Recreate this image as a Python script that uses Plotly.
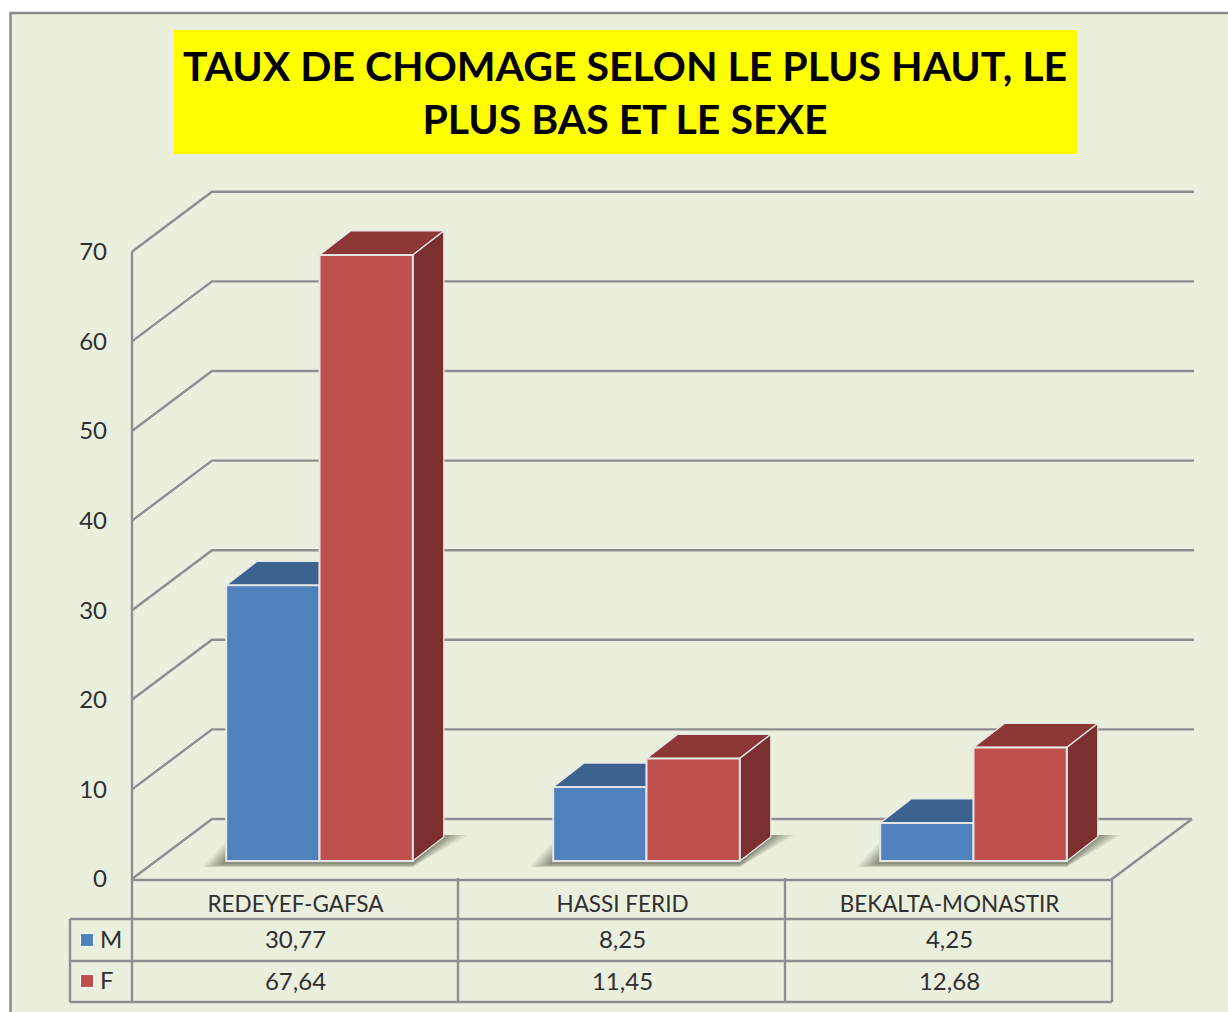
import plotly.graph_objects as go

categories = ["REDEYEF-GAFSA", "HASSI FERID", "BEKALTA-MONASTIR"]
series_m = [30.77, 8.25, 4.25]
series_f = [67.64, 11.45, 12.68]
y_ticks = [0, 10, 20, 30, 40, 50, 60, 70]
title_text = "TAUX DE CHOMAGE SELON LE PLUS HAUT, LE<br>PLUS BAS ET LE SEXE"

W, H = 1228, 1012
PX_X = 327.0      # pixels per category
PX_Y = 8.96       # pixels per value unit
X0_PX, Y0_PX = 132.0, 879.0
FONT = "Lato"
TXT = "#303030"
GRID = "#8F8F8F"
BG = "#EBEFDE"

def dx(px): return px / PX_X
def dy(px): return px / PX_Y
def xp(px): return px / W
def yp(px): return 1 - px / H
def data_y(px): return (Y0_PX - px) / PX_Y

WALL_DX, WALL_DY = dx(80), dy(60)
BAR_W = dx(93.3)
BAR_DX, BAR_DY = dx(31), dy(24)
LIFT = dy(18)
GROUP_SHIFT = dx(24)
RIGHT_END = dx(1194 - X0_PX)

fig = go.Figure()

# walls: gridlines derived from the tick values
gx, gy = [], []
for t in y_ticks:
    end = dx(1192 - X0_PX) if t == 0 else RIGHT_END
    gx += [0, WALL_DX, end, None]
    gy += [t, t + WALL_DY, t + WALL_DY, None]
gx += [0, 0, None, dx(980), dx(1060), None]
gy += [0, y_ticks[-1], None, 0, WALL_DY, None]
fig.add_trace(go.Scatter(x=gx, y=gy, mode="lines", line=dict(color=GRID, width=2.4),
                         hoverinfo="skip", showlegend=False, zorder=0))

centers = [i + 0.5 + GROUP_SHIFT for i in range(len(categories))]

# floor shadows: stacked translucent layers fade out away from the bars
for scale, bottom, alpha in [(1.0, 6, 0.08), (0.86, 6, 0.1), (0.72, 5.5, 0.11), (0.58, 5, 0.12),
                             (0.44, 4.5, 0.13), (0.3, 4, 0.15), (0.16, 3, 0.17)]:
    for c in centers:
        xl, xr = c - BAR_W, c + BAR_W
        sx = [xl - dx(24 * scale), xl, xr + BAR_DX, xr + BAR_DX + dx(24 * scale), xr]
        sy = [LIFT - dy(bottom), LIFT + dy(20 * scale), LIFT + BAR_DY + dy(2),
              LIFT + BAR_DY + dy(2), LIFT - dy(bottom)]
        fig.add_trace(go.Scatter(x=sx, y=sy, mode="lines", fill="toself", line=dict(width=0),
                                 fillcolor=f"rgba(80,85,65,{alpha})", hoverinfo="skip",
                                 showlegend=False, zorder=1))

EDGE = "#E4E6E4"
def box_faces(xl, xr, v, top_col, side_col, with_side):
    top = LIFT + v
    fig.add_trace(go.Scatter(x=[xl, xl + BAR_DX, xr + (BAR_DX if with_side else 0), xr, xl],
                             y=[top, top + BAR_DY, top + BAR_DY, top, top],
                             mode="lines", fill="toself", fillcolor=top_col,
                             line=dict(color=EDGE, width=1.3), hoverinfo="skip",
                             showlegend=False, zorder=2))
    if with_side:
        fig.add_trace(go.Scatter(x=[xr, xr + BAR_DX, xr + BAR_DX, xr, xr],
                                 y=[LIFT, LIFT + BAR_DY, top + BAR_DY, top, LIFT],
                                 mode="lines", fill="toself", fillcolor=side_col,
                                 line=dict(color=EDGE, width=1.3), hoverinfo="skip",
                                 showlegend=False, zorder=2))

for c, m, f in zip(centers, series_m, series_f):
    box_faces(c - BAR_W, c, m, "#3C6290", "#3C6290", False)
    box_faces(c, c + BAR_W, f, "#8D3836", "#7B2F2E", True)

fig.add_trace(go.Bar(name="M", x=[c - BAR_W / 2 for c in centers], y=series_m, base=LIFT, width=BAR_W,
                     marker=dict(color="#4F81BD", line=dict(color=EDGE, width=2)), showlegend=False, zorder=3))
fig.add_trace(go.Bar(name="F", x=[c + BAR_W / 2 for c in centers], y=series_f, base=LIFT, width=BAR_W,
                     marker=dict(color="#C0504D", line=dict(color=EDGE, width=2)), showlegend=False, zorder=3))

# data table
def fmt(v): return f"{v:.2f}".replace(".", ",")
cell_x = [i + 0.5 for i in range(len(categories))]
for vals, row_px in [(series_m, 942), (series_f, 984)]:
    fig.add_trace(go.Scatter(x=cell_x, y=[data_y(row_px)] * len(vals), mode="text",
                             text=[fmt(v) for v in vals], textposition="middle center",
                             textfont=dict(family=FONT, size=24, color=TXT),
                             hoverinfo="skip", showlegend=False, zorder=4))
for name, col, row_px, label_px in [("M", "#4F81BD", 940, 942), ("F", "#C0504D", 981, 983)]:
    fig.add_trace(go.Scatter(x=[dx(87 - X0_PX)], y=[data_y(row_px)], mode="markers",
                             marker=dict(symbol="square", size=13, color=col, line=dict(color="#FFFFFF", width=1)),
                             hoverinfo="skip", showlegend=False, zorder=4))
    fig.add_trace(go.Scatter(x=[dx(100 - X0_PX)], y=[data_y(label_px)], mode="text",
                             text=[name], textposition="middle right",
                             textfont=dict(family=FONT, size=24, color=TXT),
                             hoverinfo="skip", showlegend=False, zorder=4))

shapes = [
    dict(type="rect", xref="paper", yref="paper", x0=xp(10.5), x1=xp(1240), y0=yp(13), y1=yp(1030),
         fillcolor=BG, line=dict(color="#8A8A8A", width=2.5), layer="below"),
    dict(type="rect", xref="paper", yref="paper", x0=xp(174), x1=xp(1077), y0=yp(30), y1=yp(154),
         fillcolor="#FFFF00", line=dict(width=0), layer="below"),
]
def seg(x0, y0, x1, y1):
    shapes.append(dict(type="line", xref="paper", yref="paper", x0=xp(x0), x1=xp(x1), y0=yp(y0), y1=yp(y1),
                       line=dict(color=GRID, width=2.4), layer="below"))
seg(132, 880, 1112, 880)
seg(70, 919, 1112, 919)
seg(70, 961, 1112, 961)
seg(70, 1002, 1112, 1002)
seg(70, 919, 70, 1002)
for x in (132, 458, 785, 1112):
    seg(x, 878, x, 1002)

fig.update_layout(
    width=W, height=H, margin=dict(l=0, r=0, t=0, b=0),
    paper_bgcolor="#FFFFFF", plot_bgcolor="rgba(0,0,0,0)",
    barmode="overlay", shapes=shapes, showlegend=False,
    title=dict(text=title_text, x=625 / W, xanchor="center", y=1 - 81 / H, yanchor="middle",
               font=dict(family=FONT, size=41, color="#000000", weight="bold")),
    xaxis=dict(range=[-X0_PX / PX_X, (W - X0_PX) / PX_X], domain=[0, 1],
               tickmode="array", tickvals=cell_x, ticktext=categories, ticks="", showline=False, showgrid=False,
               zeroline=False, anchor="free", position=yp(880),
               tickfont=dict(family=FONT, size=22.5, color=TXT), ticklabelstandoff=8),
    yaxis=dict(range=[(Y0_PX - H) / PX_Y, Y0_PX / PX_Y], domain=[0, 1],
               tickmode="array", tickvals=y_ticks, ticks="", showline=False, showgrid=False,
               zeroline=False, anchor="free", position=xp(107),
               tickfont=dict(family=FONT, size=24, color=TXT)),
)

fig.write_html("out.html", config=dict(displayModeBar=False),
               post_script="document.body.style.margin='0';")
